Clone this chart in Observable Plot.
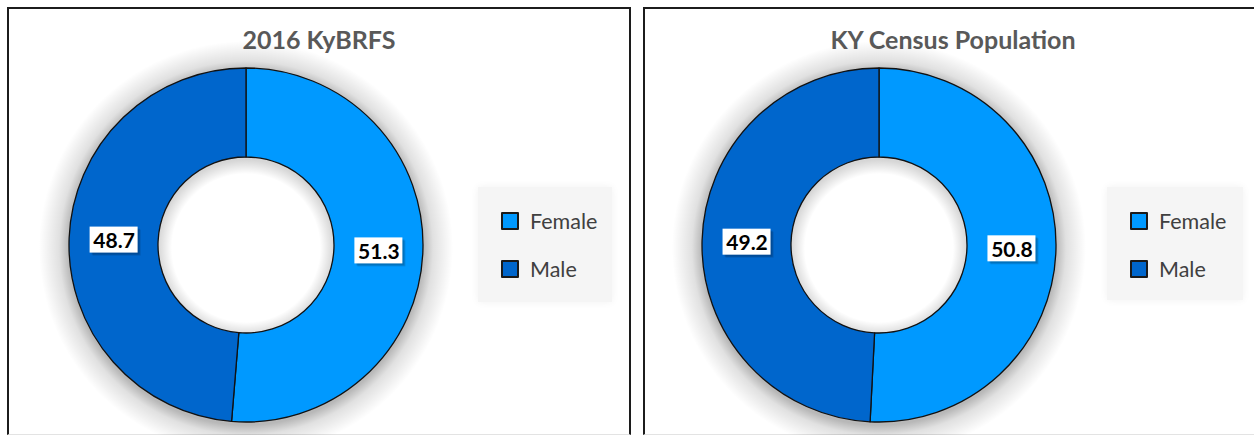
<!DOCTYPE html>
<html><head>
<meta charset="utf-8">
<script src="https://cdn.jsdelivr.net/npm/d3@7"></script>
<script src="https://cdn.jsdelivr.net/npm/@observablehq/plot@0.6"></script>
<style>
html,body{margin:0;padding:0;background:#fff}
body{width:1254px;height:435px;overflow:hidden;position:relative;font-family:Lato,"Open Sans",sans-serif}
.panel{position:absolute;top:7px;height:428px;border:2px solid #1c1c1c;border-bottom:1px solid #e3e3e3;box-sizing:border-box;background:#fff}
.title{position:absolute;top:15px;left:0;right:0;text-align:center;font-weight:bold;font-size:25px;line-height:30px;color:#595959}
.legend{position:absolute;background:#f5f5f5;box-shadow:0 0 8px rgba(0,0,0,0.06)}
.item{position:absolute;left:23px;display:flex;align-items:center;font-size:21.5px;line-height:20px;color:#404040}
.sw{width:14px;height:14px;border:2px solid #1a1a1a;margin-right:11px;border-radius:1px}
.chart{position:absolute}
</style></head><body>
<script>
// ---- data ----
const categories = ["Female", "Male"];
const panelTitles = ["2016 KyBRFS", "KY Census Population"];
const kybrfsValues = [51.3, 48.7];
const censusValues = [50.8, 49.2];
const colors = ["#0099ff", "#0066cc"];

// ---- layout (page pixels) ----
const panels = [
  {left: 7,   width: 624, values: kybrfsValues, title: panelTitles[0], chart: {x: 37, y: 36}, legend: {x: 469, y: 178, w: 134, h: 115}},
  {left: 643, width: 620, values: censusValues, title: panelTitles[1], chart: {x: 34, y: 36}, legend: {x: 462, y: 178, w: 136, h: 113}}
];
const SIZE = 400, R_OUT = 177, R_IN = 88, HALO = 30;

function donut(values, id) {
  const rows = categories.map((c, i) => ({category: c, value: values[i], color: colors[i]}));
  const arcs = d3.pie().sort(null).value(d => d.value)(rows);
  const labels = arcs.map(a => {
    const m = (a.startAngle + a.endAngle) / 2, rm = (R_OUT + R_IN) / 2;
    return {x: rm * Math.sin(m), y: rm * Math.cos(m), text: a.data.value.toFixed(1)};
  });

  // donut slices drawn through Plot's x/y scales
  const arcMark = (index, scales) => {
    const sx = scales.x, sy = scales.y;
    const cx = sx(0), cy = sy(0);
    const ro = Math.abs(sx(R_OUT) - cx), ri = Math.abs(sx(R_IN) - cx);
    const rg = ro + HALO;
    const g = d3.create("svg:g").attr("aria-label", "donut");
    const grad = g.append("defs").append("radialGradient")
      .attr("id", "halo" + id).attr("gradientUnits", "userSpaceOnUse")
      .attr("cx", 0).attr("cy", 0).attr("r", rg);
    [[(ri - 14) / rg, 0], [ri / rg, 0.16], [ro / rg, 0.28], [(ro + 10) / rg, 0.12], [1, 0]].forEach(([o, a]) =>
      grad.append("stop").attr("offset", o).attr("stop-color", "#000").attr("stop-opacity", a));
    g.append("path")
      .attr("transform", `translate(${cx},${cy + 3})`)
      .attr("d", d3.arc().innerRadius(ri - 14).outerRadius(rg).startAngle(0).endAngle(2 * Math.PI)())
      .attr("fill", `url(#halo${id})`);
    const path = d3.arc().innerRadius(ri).outerRadius(ro);
    g.append("g")
      .attr("transform", `translate(${cx},${cy})`)
      .selectAll("path").data(arcs).join("path")
      .attr("d", path)
      .attr("fill", d => d.data.color)
      .attr("stroke", "#111").attr("stroke-width", 1.3).attr("stroke-linejoin", "round");
    return g.node();
  };

  const marks = [
    arcMark,
    Plot.rect(labels, {x1: d => d.x - 21, x2: d => d.x + 27, y1: d => d.y - 16, y2: d => d.y + 10, fill: "#000", fillOpacity: 0.12}),
    Plot.rect(labels, {x1: d => d.x - 22, x2: d => d.x + 26, y1: d => d.y - 15, y2: d => d.y + 11, fill: "#000", fillOpacity: 0.15}),
    Plot.rect(labels, {x1: d => d.x - 24, x2: d => d.x + 24, y1: d => d.y - 13, y2: d => d.y + 13, fill: "white"}),
    Plot.text(labels, {x: "x", y: "y", text: "text", fontSize: 21, fontWeight: "bold", fontFamily: "Lato, 'Open Sans', sans-serif", fill: "#000", dy: 1})
  ];

  return Plot.plot({
    width: SIZE, height: SIZE, margin: 0,
    x: {domain: [-SIZE / 2, SIZE / 2], axis: null},
    y: {domain: [-SIZE / 2, SIZE / 2], axis: null},
    style: {background: "transparent", overflow: "visible"},
    marks
  });
}

panels.forEach((p, k) => {
  const panel = document.createElement("div");
  panel.className = "panel";
  panel.style.left = p.left + "px";
  panel.style.width = p.width + "px";
  document.body.appendChild(panel);

  const title = document.createElement("div");
  title.className = "title";
  title.textContent = p.title;
  panel.appendChild(title);

  const chart = document.createElement("div");
  chart.className = "chart";
  chart.style.left = p.chart.x + "px";
  chart.style.top = p.chart.y + "px";
  chart.appendChild(donut(p.values, k));
  panel.appendChild(chart);

  const legend = document.createElement("div");
  legend.className = "legend";
  Object.assign(legend.style, {left: p.legend.x + "px", top: p.legend.y + "px", width: p.legend.w + "px", height: p.legend.h + "px"});
  categories.forEach((c, i) => {
    const item = document.createElement("div");
    item.className = "item";
    item.style.top = (24 + i * 48) + "px";
    const sw = document.createElement("div");
    sw.className = "sw";
    sw.style.background = colors[i];
    item.appendChild(sw);
    item.appendChild(document.createTextNode(c));
    legend.appendChild(item);
  });
  panel.appendChild(legend);
});
</script>
</body></html>
